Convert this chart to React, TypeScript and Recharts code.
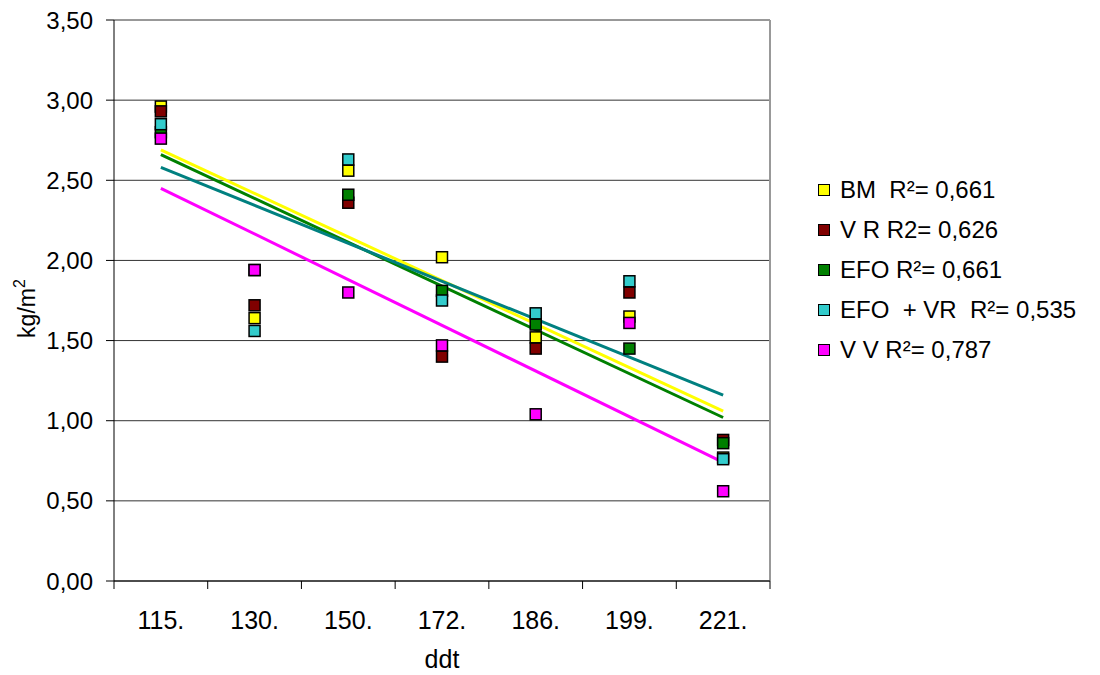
import { ComposedChart, Line, XAxis, YAxis, CartesianGrid, ReferenceLine } from 'recharts'

const categories = ['115.', '130.', '150.', '172.', '186.', '199.', '221.']

// measured points per treatment (kg/m2)
const bm = [2.96, 1.64, 2.56, 2.02, 1.52, 1.65, 0.77]
const vr = [2.93, 1.72, 2.36, 1.4, 1.45, 1.8, 0.88]
const efo = [2.8, 1.94, 2.41, 1.81, 1.6, 1.45, 0.86]
const efoVr = [2.85, 1.56, 2.63, 1.75, 1.67, 1.87, 0.76]
const vv = [2.76, 1.94, 1.8, 1.47, 1.04, 1.61, 0.56]

// linear trendlines, value at first and last category
const bmTrend = [2.69, 1.06]
const efoTrend = [2.66, 1.02]
const efoVrTrend = [2.58, 1.16]
const vvTrend = [2.45, 0.74]

const yTicks = [0, 0.5, 1, 1.5, 2, 2.5, 3, 3.5]
const labelTicks = [1, 2, 3, 4, 5, 6, 7]
const boundaryTicks = [0.5, 1.5, 2.5, 3.5, 4.5, 5.5, 6.5, 7.5]

const legendItems = [
  { label: 'BM  R²= 0,661', color: '#FFFF00' },
  { label: 'V R R2= 0,626', color: '#800000' },
  { label: 'EFO R²= 0,661', color: '#008000' },
  { label: 'EFO  + VR  R²= 0,535', color: '#33CCCC' },
  { label: 'V V R²= 0,787', color: '#FF00FF' },
]

const FONT = '"Liberation Sans", Arial, sans-serif'

const endsOnly = (pair: number[], i: number) =>
  i === 0 ? pair[0] : i === categories.length - 1 ? pair[1] : null

const data = categories.map((c, i) => ({
  x: i + 1,
  name: c,
  bm: bm[i],
  vr: vr[i],
  efo: efo[i],
  efoVr: efoVr[i],
  vv: vv[i],
  bmFit: endsOnly(bmTrend, i),
  efoFit: endsOnly(efoTrend, i),
  efoVrFit: endsOnly(efoVrTrend, i),
  vvFit: endsOnly(vvTrend, i),
}))

function square(color: string) {
  return (props: any) => {
    const { cx, cy, index } = props
    if (cx == null || cy == null) return <g key={`${color}-${index}`} />
    return (
      <rect
        key={`${color}-${index}`}
        x={cx - 5.5}
        y={cy - 5.5}
        width={11}
        height={11}
        fill={color}
        stroke="#000"
        strokeWidth={1.5}
      />
    )
  }
}

function YTitle(props: any) {
  const vb = props.viewBox || {}
  const cx = 35
  const cy = (vb.y ?? 20) + (vb.height ?? 561) / 2 + 8
  return (
    <text
      x={cx}
      y={cy}
      transform={`rotate(-90, ${cx}, ${cy})`}
      textAnchor="middle"
      fontSize={23}
      fontFamily={FONT}
      fill="#000"
    >
      kg/m
      <tspan dy={-10} fontSize={16}>
        2
      </tspan>
    </text>
  )
}

export default function App() {
  return (
    <div
      style={{
        position: 'absolute',
        left: 0,
        top: 0,
        width: 1100,
        height: 675,
        background: '#fff',
        fontFamily: FONT,
      }}
    >
      <ComposedChart
        width={1100}
        height={675}
        data={data}
        margin={{ top: 20, right: 330, bottom: 0, left: 0 }}
      >
        <CartesianGrid vertical={false} stroke="#333" />

        {/* axis line + tick marks on the category boundaries */}
        <XAxis
          type="number"
          dataKey="x"
          domain={[0.5, 7.5]}
          ticks={boundaryTicks}
          tickFormatter={() => ''}
          tickSize={8}
          height={1}
          axisLine={{ stroke: '#000' }}
          tickLine={{ stroke: '#000' }}
        />
        {/* category labels centred in each band */}
        <XAxis
          xAxisId="lbl"
          type="number"
          dataKey="x"
          domain={[0.5, 7.5]}
          ticks={labelTicks}
          tickFormatter={(v) => categories[v - 1]}
          height={93}
          axisLine={false}
          tickLine={false}
          tickSize={0}
          tickMargin={29}
          tick={{ fontSize: 25, fill: '#000', fontFamily: FONT }}
          label={{
            value: 'ddt',
            position: 'insideBottom',
            offset: 7,
            fontSize: 25,
            fill: '#000',
            fontFamily: FONT,
          }}
        />
        <YAxis
          domain={[0, 3.5]}
          ticks={yTicks}
          width={114}
          tickSize={8}
          tickMargin={13}
          axisLine={{ stroke: '#000' }}
          tickLine={{ stroke: '#000' }}
          tick={{ fontSize: 24, fill: '#000', fontFamily: FONT }}
          tickFormatter={(v) => v.toFixed(2).replace('.', ',')}
          label={<YTitle />}
        />

        <ReferenceLine x={7.5} stroke="#999" strokeWidth={2} />

        {/* markers */}
        <Line dataKey="bm" stroke="none" dot={square('#FFFF00')} activeDot={false} isAnimationActive={false} />
        <Line dataKey="vr" stroke="none" dot={square('#800000')} activeDot={false} isAnimationActive={false} />
        <Line dataKey="efo" stroke="none" dot={square('#008000')} activeDot={false} isAnimationActive={false} />
        <Line dataKey="efoVr" stroke="none" dot={square('#33CCCC')} activeDot={false} isAnimationActive={false} />
        <Line dataKey="vv" stroke="none" dot={square('#FF00FF')} activeDot={false} isAnimationActive={false} />

        {/* trendlines */}
        <Line dataKey="bmFit" stroke="#FFFF00" strokeWidth={3} dot={false} activeDot={false} connectNulls isAnimationActive={false} />
        <Line dataKey="efoFit" stroke="#008000" strokeWidth={3} dot={false} activeDot={false} connectNulls isAnimationActive={false} />
        <Line dataKey="efoVrFit" stroke="#008080" strokeWidth={3} dot={false} activeDot={false} connectNulls isAnimationActive={false} />
        <Line dataKey="vvFit" stroke="#FF00FF" strokeWidth={3} dot={false} activeDot={false} connectNulls isAnimationActive={false} />
      </ComposedChart>

      <div style={{ position: 'absolute', left: 818, top: 170 }}>
        {legendItems.map((item) => (
          <div
            key={item.label}
            style={{ display: 'flex', alignItems: 'center', height: 40 }}
          >
            <span
              style={{
                width: 10,
                height: 10,
                background: item.color,
                border: '1.5px solid #000',
                marginRight: 10,
              }}
            />
            <span style={{ fontSize: 24, color: '#000', whiteSpace: 'pre' }}>
              {item.label}
            </span>
          </div>
        ))}
      </div>
    </div>
  )
}
